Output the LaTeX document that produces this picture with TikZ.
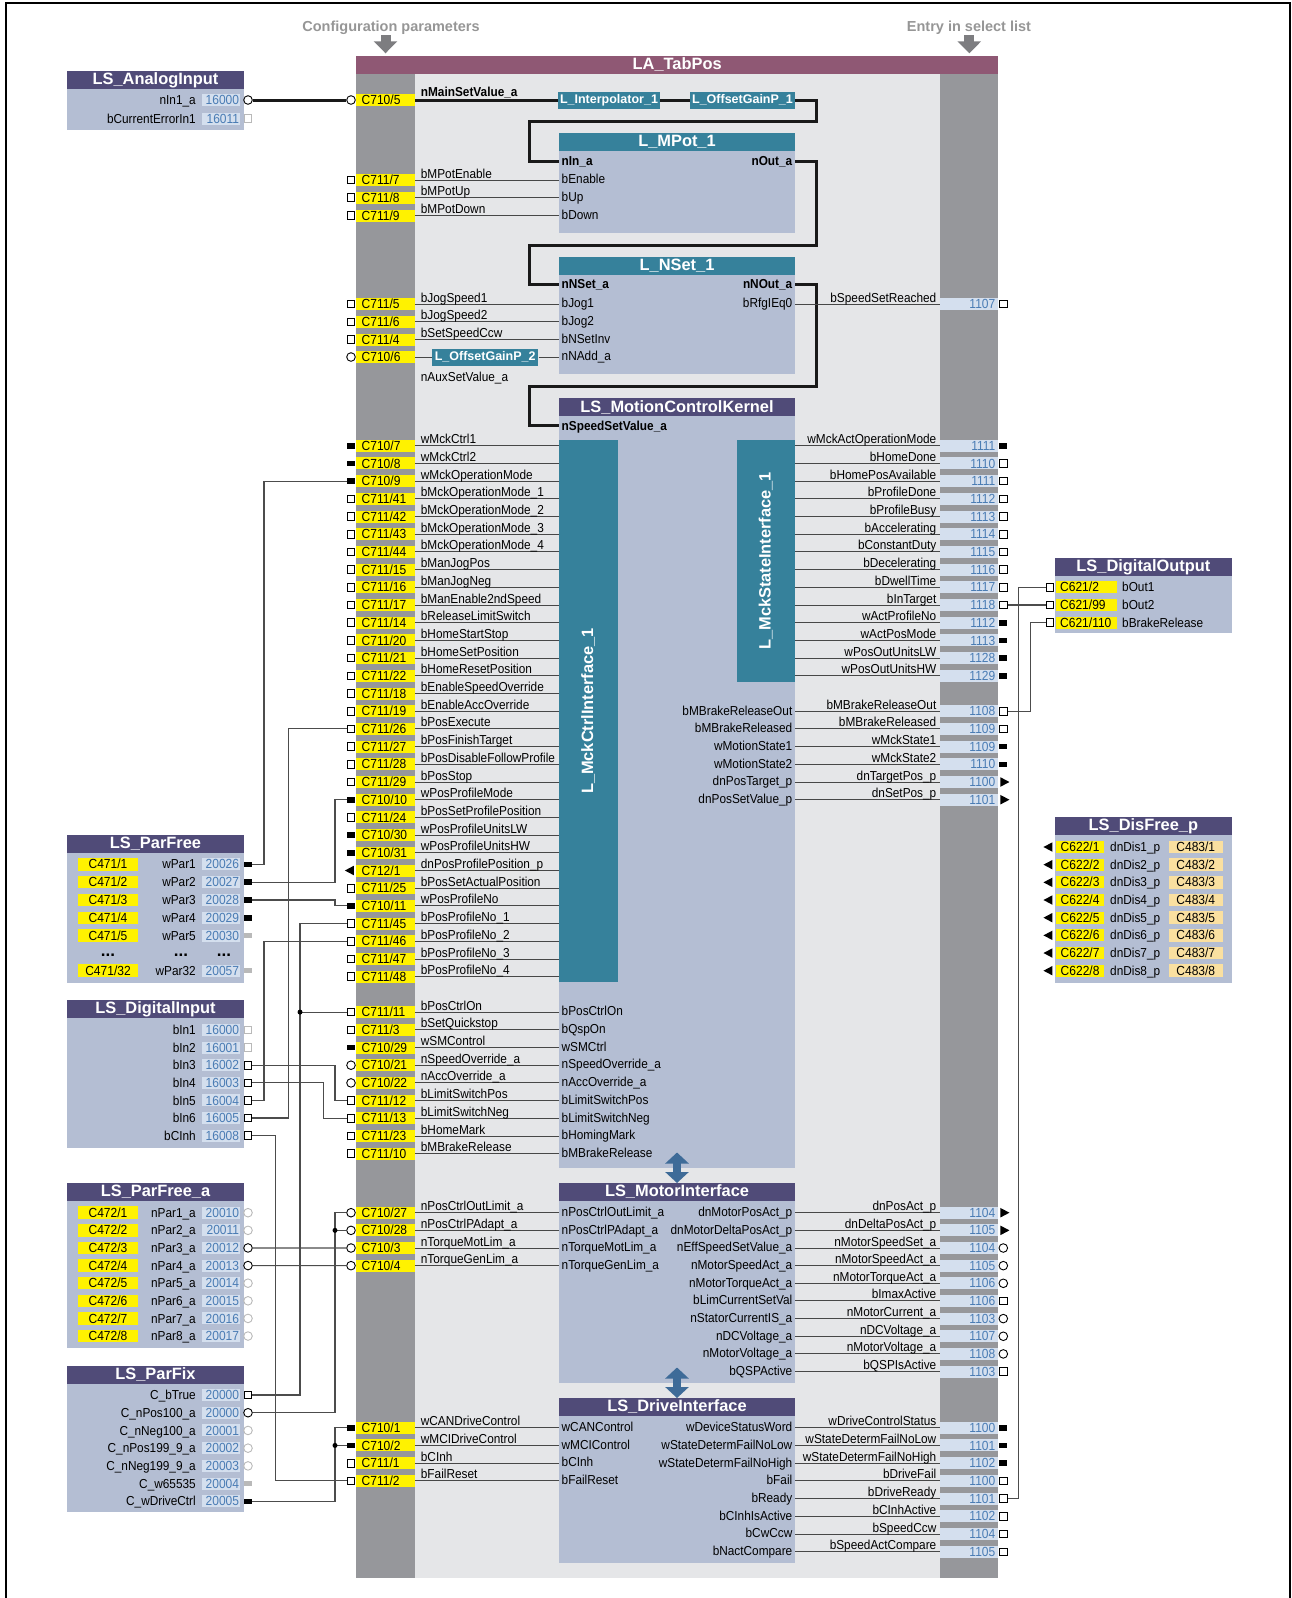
\documentclass[tikz,border=0pt]{standalone}
\usepackage{fontspec}
\setmainfont{Liberation Sans}
\newfontfamily\nrw{Liberation Sans}[FakeStretch=0.91]
\usepackage{tikz}
\usetikzlibrary{arrows.meta,shapes.geometric}

\definecolor{tabbar}{RGB}{143,88,116}
\definecolor{areabg}{RGB}{229,230,232}
\definecolor{colgray}{RGB}{150,151,155}
\definecolor{blkbg}{RGB}{180,190,211}
\definecolor{lshead}{RGB}{80,75,120}
\definecolor{tealc}{RGB}{54,129,155}
\definecolor{yelc}{RGB}{255,242,0}
\definecolor{codebg}{RGB}{212,223,238}
\definecolor{codeblue}{RGB}{74,124,180}
\definecolor{orangec}{RGB}{250,224,160}
\definecolor{arrblue}{RGB}{62,107,152}
\definecolor{cfggray}{RGB}{150,150,150}
\definecolor{cfgarrow}{RGB}{125,125,128}

\newcommand\lblf{\nrw\fontsize{13}{14}\selectfont}
\newcommand\boldf{\nrw\bfseries\fontsize{13}{14}\selectfont}
\newcommand\codef{\nrw\fontsize{13.2}{14}\selectfont}
\newcommand\headf{\bfseries\fontsize{16.4}{18}\selectfont}
\newcommand\boxf{\bfseries\fontsize{12.5}{14}\selectfont}
\newcommand\cfgf{\bfseries\fontsize{14.5}{16}\selectfont}

% input row of LA_TabPos: name, y, code, port, label, target block
\newcommand{\sigin}[6]{%
  \node[#4] (#1) at (351,#2) {};
  \node[ycell] (#1c) at (385.5,#2) {};
  \node[ctxt, anchor=base west] (#1t) at (361.5,#2+4.6) {#3};
  \draw[sig] (#1c.east) -- (#1c.east -| #6.west);
  \node[lbl, anchor=base west] (#1l) at (420.7,#2-2) {#5};}
% output row of LA_TabPos: name, y, number, port, label, source block
\newcommand{\sigout}[6]{%
  \node[bcell] (#1c) at (969.2,#2) {};
  \node[ntxt, anchor=base east] (#1t) at (995.5,#2+4.6) {#3};
  \node[#4] (#1) at (1003.3,#2) {};
  \draw[sig] (#1c.west -| #6.east) -- (#1c.west);
  \node[lbl, anchor=base east] (#1l) at (936.5,#2-2) {#5};}
% row of a system block on the left
\newcommand{\lsrow}[5]{%
  \node[lbl, anchor=base east] (#1l) at (196,#2+4.6) {#3};
  \node[bcell, minimum width=38.5] (#1c) at (221.2,#2) {};
  \node[ntxt, anchor=base east] (#1t) at (239.3,#2+4.6) {#4};
  \node[#5] (#1) at (248,#2) {};}

\begin{document}
\begin{tikzpicture}[x=1pt, y=-1pt,
  lbl/.style={font=\lblf, inner sep=0},
  blbl/.style={font=\boldf, inner sep=0},
  ctxt/.style={font=\codef, inner sep=0},
  ntxt/.style={font=\codef, text=codeblue, inner sep=0},
  ycell/.style={fill=yelc, minimum width=58.5, minimum height=12, inner sep=0},
  bcell/.style={fill=codebg, minimum width=58.5, minimum height=12, inner sep=0},
  ocell/.style={fill=orangec, minimum width=53.5, minimum height=12.5, inner sep=0},
  blk/.style={fill=blkbg, minimum width=236, inner sep=0},
  lsblk/.style={fill=blkbg, minimum width=177, inner sep=0},
  lshd/.style={fill=lshead, text=white, font=\headf, minimum height=17.6, inner sep=0},
  thd/.style={fill=tealc, text=white, font=\headf, minimum width=236, minimum height=17.6, inner sep=0},
  tbox/.style={fill=tealc, text=white, font=\boxf, minimum height=17, inner sep=0},
  tbar/.style={fill=tealc, minimum width=58.5, inner sep=0},
  vtxt/.style={text=white, font=\headf, rotate=90, inner sep=0},
  sig/.style={draw=black!72, line width=1},
  thk/.style={draw=black!90, line width=3},
  wire/.style={draw=black!70, line width=1.1},
  psq/.style={draw, fill=white, line width=0.9, minimum size=7.6, inner sep=0},
  psqo/.style={psq, draw=gray!55},
  pci/.style={draw, fill=white, circle, line width=0.9, minimum size=8.6, inner sep=0},
  pcio/.style={pci, draw=gray!55},
  pwd/.style={fill=black, minimum width=8, minimum height=5.6, inner sep=0},
  pwdo/.style={pwd, fill=gray!55},
  ptr/.style={fill=black, isosceles triangle, isosceles triangle stretches, minimum width=9.5, minimum height=9, inner sep=0},
  ptl/.style={ptr, shape border rotate=180},
  jdot/.style={circle, fill=black, minimum size=5, inner sep=0},
  garr/.style={draw=cfgarrow, line width=10pt, -{Triangle[width=23pt,length=12pt]}, shorten >=2.5pt},
  dbl/.style={draw=arrblue, line width=8pt, {Triangle[width=23pt,length=11pt]}-{Triangle[width=23pt,length=11pt]}}
]
\useasboundingbox (0,0) rectangle (1292,1598);
\draw[line width=2.5] (5.8,1598) -- (5.8,3) -- (1290,3) -- (1290,1598);

% LA_TabPos frame
\fill[areabg] (415,73.7) rectangle (940,1578);
\fill[colgray] (356,73.7) rectangle (415,1578);
\fill[colgray] (940,73.7) rectangle (998.4,1578);
\node[fill=tabbar, text=white, font=\headf, minimum width=642.4, minimum height=17.7, inner sep=0] (tab) at (677.2,64.85) {LA\_TabPos};
\node[font=\cfgf, text=cfggray, inner sep=0] (cfg) at (391,28) {Configuration parameters};
\node[font=\cfgf, text=cfggray, inner sep=0] (esl) at (969,28) {Entry in select list};
\coordinate (cfga) at (385.5,35);
\coordinate (esla) at (969.3,35);
\draw[garr] (cfga) -- (cfga |- tab.north);
\draw[garr] (esla) -- (esla |- tab.north);

% function blocks
\node[blk, minimum height=82.3] (mpotb) at (677,192.15) {};
\node[thd] (mpot) at (677,142.2) {L\_MPot\_1};
\node[blk, minimum height=100] (nsetb) at (677,324.3) {};
\node[thd] (nset) at (677,265.7) {L\_NSet\_1};
\node[blk, minimum height=752.3] (mckb) at (677,792.15) {};
\node[lshd, minimum width=236] (mck) at (677,407.2) {LS\_MotionControlKernel};
\node[tbar, minimum height=542] (mcki) at (588.25,711) {};
\node[vtxt] (mckit) at (mcki.center) {L\_MckCtrlInterface\_1};
\node[tbar, minimum height=241.7] (mcks) at (765.75,560.85) {};
\node[vtxt] (mckst) at (mcks.center) {L\_MckStateInterface\_1};
\node[blk, minimum height=182.6] (mib) at (677,1292) {};
\node[lshd, minimum width=236] (mi) at (677,1192) {LS\_MotorInterface};
\node[blk, minimum height=147.6] (dvb) at (677,1489.5) {};
\node[lshd, minimum width=236] (dv) at (677,1407) {LS\_DriveInterface};
\draw[dbl] ([yshift=16]mckb.south) -- (mi.north);
\draw[dbl] ([yshift=16]mib.south) -- (dv.north);

\node[tbox, minimum width=102] (interp) at (609,100) {L\_Interpolator\_1};
\node[tbox, minimum width=105.5] (og1) at (742.5,100) {L\_OffsetGainP\_1};
\node[tbox, minimum width=106.5] (og2) at (485.2,357) {L\_OffsetGainP\_2};

% main set value chain
\node[pci] (ipa) at (351,100) {};
\node[ycell] (ipac) at (385.5,100) {};
\node[ctxt, anchor=base west] (ipat) at (361.5,104.6) {C710/5};
\node[blbl, anchor=base west] (ipal) at (420.7,96) {nMainSetValue\_a};
\draw[thk] (ipac.east) -- (interp.west);
\draw[thk] (interp) -- (og1);
\coordinate (mpin) at (559,161.7);
\coordinate (mpout) at (795,161.7);
\coordinate (nsin) at (559,284.3);
\coordinate (nsout) at (795,284.3);
\coordinate (mckin) at (559,425.5);
\draw[thk] (og1.east) -| (816,121.7) -| (529,161.7) -- (mpin);
\draw[thk] (mpout) -| (816,245.7) -| (529,284.3) -- (nsin);
\draw[thk] (nsout) -| (816,386.7) -| (529,425.5) -- (mckin);
\node[blbl, anchor=base west] (nina) at (561.5,165.6) {nIn\_a};
\node[blbl, anchor=base east] (nouta) at (792.5,165.6) {nOut\_a};
\node[blbl, anchor=base west] (nnset) at (561.5,288.2) {nNSet\_a};
\node[blbl, anchor=base east] (nnout) at (792.5,288.2) {nNOut\_a};
\node[blbl, anchor=base west] (nssv) at (561.5,430) {nSpeedSetValue\_a};

% L_MPot_1 / L_NSet_1 inputs
\foreach \yy/\cb/\lab/\ilab [count=\kk] in {180/7/bMPotEnable/bEnable, 197.7/8/bMPotUp/bUp, 215.5/9/bMPotDown/bDown} {
  \sigin{ipm\kk}{\yy}{C711/\cb}{psq}{\lab}{mpotb}
  \node[lbl, anchor=base west] (ipmi\kk) at (561.5,\yy+3.7) {\ilab};
}
\foreach \yy/\cb/\lab/\ilab [count=\kk] in {304/5/bJogSpeed1/bJog1, 321.8/6/bJogSpeed2/bJog2, 339.6/4/bSetSpeedCcw/bNSetInv} {
  \sigin{ipn\kk}{\yy}{C711/\cb}{psq}{\lab}{nsetb}
  \node[lbl, anchor=base west] (ipni\kk) at (561.5,\yy+3.7) {\ilab};
}
\node[pci] (ipn4) at (351,357) {};
\node[ycell] (ipn4c) at (385.5,357) {};
\node[ctxt, anchor=base west] (ipn4t) at (361.5,361.6) {C710/6};
\node[lbl, anchor=base west] (ipn4l) at (420.7,381.5) {nAuxSetValue\_a};
\node[lbl, anchor=base west] (ipni4) at (561.5,360.7) {nNAdd\_a};
\draw[sig] (ipn4c.east) -- (og2.west);
\draw[sig] (og2.east) -- (og2.east -| nsetb.west);
\node[lbl, anchor=base east] (rfg) at (792.5,307.7) {bRfgIEq0};
\sigout{o07}{304}{1107}{psq}{bSpeedSetReached}{nsetb}

% LS_MotionControlKernel inputs
\foreach \ca/\cb/\pt/\lab [count=\rw from 0] in {
  710/7/pwd/wMckCtrl1, 710/8/pwd/wMckCtrl2, 710/9/pwd/wMckOperationMode,
  711/41/psq/bMckOperationMode\_1, 711/42/psq/bMckOperationMode\_2,
  711/43/psq/bMckOperationMode\_3, 711/44/psq/bMckOperationMode\_4,
  711/15/psq/bManJogPos, 711/16/psq/bManJogNeg, 711/17/psq/bManEnable2ndSpeed,
  711/14/psq/bReleaseLimitSwitch, 711/20/psq/bHomeStartStop,
  711/21/psq/bHomeSetPosition, 711/22/psq/bHomeResetPosition,
  711/18/psq/bEnableSpeedOverride, 711/19/psq/bEnableAccOverride,
  711/26/psq/bPosExecute, 711/27/psq/bPosFinishTarget,
  711/28/psq/bPosDisableFollowProfile, 711/29/psq/bPosStop,
  710/10/pwd/wPosProfileMode, 711/24/psq/bPosSetProfilePosition,
  710/30/pwd/wPosProfileUnitsLW, 710/31/pwd/wPosProfileUnitsHW,
  712/1/ptl/dnPosProfilePosition\_p, 711/25/psq/bPosSetActualPosition,
  710/11/pwd/wPosProfileNo, 711/45/psq/bPosProfileNo\_1,
  711/46/psq/bPosProfileNo\_2, 711/47/psq/bPosProfileNo\_3,
  711/48/psq/bPosProfileNo\_4} {
  \pgfmathsetmacro\yy{445.7+17.7*\rw}
  \sigin{ip\rw}{\yy}{C\ca/\cb}{\pt}{\lab}{mcki}
}
\foreach \ca/\cb/\pt/\lab/\ilab [count=\rw from 32] in {
  711/11/psq/bPosCtrlOn/bPosCtrlOn, 711/3/psq/bSetQuickstop/bQspOn,
  710/29/pwd/wSMControl/wSMCtrl,
  710/21/pci/nSpeedOverride\_a/nSpeedOverride\_a,
  710/22/pci/nAccOverride\_a/nAccOverride\_a,
  711/12/psq/bLimitSwitchPos/bLimitSwitchPos,
  711/13/psq/bLimitSwitchNeg/bLimitSwitchNeg,
  711/23/psq/bHomeMark/bHomingMark, 711/10/psq/bMBrakeRelease/bMBrakeRelease} {
  \pgfmathsetmacro\yy{445.7+17.7*\rw}
  \sigin{ip\rw}{\yy}{C\ca/\cb}{\pt}{\lab}{mckb}
  \node[lbl, anchor=base west] (ipi\rw) at (561.5,\yy+3.7) {\ilab};
}

% LS_MotionControlKernel outputs
\foreach \lab/\num/\pt [count=\rw from 0] in {
  wMckActOperationMode/1111/pwd, bHomeDone/1110/psq, bHomePosAvailable/1111/psq,
  bProfileDone/1112/psq, bProfileBusy/1113/psq, bAccelerating/1114/psq,
  bConstantDuty/1115/psq, bDecelerating/1116/psq, bDwellTime/1117/psq,
  bInTarget/1118/psq, wActProfileNo/1112/pwd, wActPosMode/1113/pwd,
  wPosOutUnitsLW/1128/pwd, wPosOutUnitsHW/1129/pwd} {
  \pgfmathsetmacro\yy{445.7+17.7*\rw}
  \sigout{op\rw}{\yy}{\num}{\pt}{\lab}{mcks}
}
\foreach \ilab/\lab/\num/\pt [count=\rw from 15] in {
  bMBrakeReleaseOut/bMBrakeReleaseOut/1108/psq,
  bMBrakeReleased/bMBrakeReleased/1109/psq,
  wMotionState1/wMckState1/1109/pwd, wMotionState2/wMckState2/1110/pwd,
  dnPosTarget\_p/dnTargetPos\_p/1100/ptr, dnPosSetValue\_p/dnSetPos\_p/1101/ptr} {
  \pgfmathsetmacro\yy{445.7+17.7*\rw}
  \sigout{op\rw}{\yy}{\num}{\pt}{\lab}{mckb}
  \node[lbl, anchor=base east] (opi\rw) at (792.5,\yy+3.9) {\ilab};
}

% LS_MotorInterface
\foreach \ca/\cb/\lab [count=\rw from 0] in {
  710/27/nPosCtrlOutLimit\_a, 710/28/nPosCtrlPAdapt\_a,
  710/3/nTorqueMotLim\_a, 710/4/nTorqueGenLim\_a} {
  \pgfmathsetmacro\yy{1212.7+17.65*\rw}
  \sigin{mp\rw}{\yy}{C\ca/\cb}{pci}{\lab}{mib}
  \node[lbl, anchor=base west] (mpi\rw) at (561.5,\yy+3.7) {\lab};
}
\foreach \ilab/\lab/\num/\pt [count=\rw from 0] in {
  dnMotorPosAct\_p/dnPosAct\_p/1104/ptr,
  dnMotorDeltaPosAct\_p/dnDeltaPosAct\_p/1105/ptr,
  nEffSpeedSetValue\_a/nMotorSpeedSet\_a/1104/pci,
  nMotorSpeedAct\_a/nMotorSpeedAct\_a/1105/pci,
  nMotorTorqueAct\_a/nMotorTorqueAct\_a/1106/pci,
  bLimCurrentSetVal/bImaxActive/1106/psq,
  nStatorCurrentIS\_a/nMotorCurrent\_a/1103/pci,
  nDCVoltage\_a/nDCVoltage\_a/1107/pci,
  nMotorVoltage\_a/nMotorVoltage\_a/1108/pci,
  bQSPActive/bQSPIsActive/1103/psq} {
  \pgfmathsetmacro\yy{1212.7+17.65*\rw}
  \sigout{mq\rw}{\yy}{\num}{\pt}{\lab}{mib}
  \node[lbl, anchor=base east] (mqi\rw) at (792.5,\yy+3.9) {\ilab};
}

% LS_DriveInterface
\foreach \ca/\cb/\pt/\lab/\ilab [count=\rw from 0] in {
  710/1/pwd/wCANDriveControl/wCANControl, 710/2/pwd/wMCIDriveControl/wMCIControl,
  711/1/psq/bCInh/bCInh, 711/2/psq/bFailReset/bFailReset} {
  \pgfmathsetmacro\yy{1427.7+17.72*\rw}
  \sigin{dp\rw}{\yy}{C\ca/\cb}{\pt}{\lab}{dvb}
  \node[lbl, anchor=base west] (dpi\rw) at (561.5,\yy+3.7) {\ilab};
}
\foreach \ilab/\lab/\num/\pt [count=\rw from 0] in {
  wDeviceStatusWord/wDriveControlStatus/1100/pwd,
  wStateDetermFailNoLow/wStateDetermFailNoLow/1101/pwd,
  wStateDetermFailNoHigh/wStateDetermFailNoHigh/1102/pwd,
  bFail/bDriveFail/1100/psq, bReady/bDriveReady/1101/psq,
  bCInhIsActive/bCInhActive/1102/psq, bCwCcw/bSpeedCcw/1104/psq,
  bNactCompare/bSpeedActCompare/1105/psq} {
  \pgfmathsetmacro\yy{1427.7+17.72*\rw}
  \sigout{dq\rw}{\yy}{\num}{\pt}{\lab}{dvb}
  \node[lbl, anchor=base east] (dqi\rw) at (792.5,\yy+3.9) {\ilab};
}

% system blocks left
\node[lsblk, minimum height=41] (aib) at (155.5,109.2) {};
\node[lshd, minimum width=177] (aih) at (155.5,79.85) {LS\_AnalogInput};
\lsrow{ai1}{100}{nIn1\_a}{16000}{pci}
\lsrow{ai2}{118.7}{bCurrentErrorIn1}{16011}{psqo}
\draw[thk] (ai1.east) -- (ipa.west);

\node[lsblk, minimum height=130] (pfb) at (155.5,917.7) {};
\node[lshd, minimum width=177] (pfh) at (155.5,843.85) {LS\_ParFree};
\foreach \yy/\cb/\lab/\num/\pt [count=\kk] in {864.3/1/wPar1/20026/pwd, 882.2/2/wPar2/20027/pwd,
  900/3/wPar3/20028/pwd, 917.8/4/wPar4/20029/pwd, 935.6/5/wPar5/20030/pwdo,
  970.5/32/wPar32/20057/pwdo} {
  \node[ycell, minimum width=60, minimum height=12.5] (pfy\kk) at (108,\yy) {};
  \node[ctxt, anchor=base] (pfyt\kk) at (108,\yy+4.6) {C471/\cb};
  \lsrow{pf\kk}{\yy}{\lab}{\num}{\pt}
}
\foreach \xx [count=\kk] in {108,181,224}
  \node[font=\bfseries\fontsize{17}{18}\selectfont, inner sep=0, anchor=base] (pfd\kk) at (\xx,956.5) {...};

\node[lsblk, minimum height=130] (dinb) at (155.5,1082.7) {};
\node[lshd, minimum width=177] (dinh) at (155.5,1008.85) {LS\_DigitalInput};
\foreach \lab/\num/\pt [count=\kk] in {bIn1/16000/psqo, bIn2/16001/psqo, bIn3/16002/psq,
  bIn4/16003/psq, bIn5/16004/psq, bIn6/16005/psq, bCInh/16008/psq} {
  \pgfmathsetmacro\yy{1030+17.6*(\kk-1)}
  \lsrow{di\kk}{\yy}{\lab}{\num}{\pt}
}

\node[lsblk, minimum height=147] (pab) at (155.5,1274.2) {};
\node[lshd, minimum width=177] (pah) at (155.5,1192) {LS\_ParFree\_a};
\foreach \kk/\pt in {1/pcio, 2/pcio, 3/pci, 4/pci, 5/pcio, 6/pcio, 7/pcio, 8/pcio} {
  \pgfmathsetmacro\yy{1212.7+17.62*(\kk-1)}
  \pgfmathtruncatemacro\nn{9+\kk}
  \node[ycell, minimum width=60, minimum height=12.5] (pay\kk) at (108,\yy) {};
  \node[ctxt, anchor=base] (payt\kk) at (108,\yy+4.6) {C472/\kk};
  \lsrow{pa\kk}{\yy}{nPar\kk\_a}{200\nn}{\pt}
}

\node[lsblk, minimum height=128.3] (pxb) at (155.5,1448.15) {};
\node[lshd, minimum width=177] (pxh) at (155.5,1375) {LS\_ParFix};
\foreach \lab/\num/\pt [count=\kk] in {C\_bTrue/20000/psq, C\_nPos100\_a/20000/pci,
  C\_nNeg100\_a/20001/pcio, C\_nPos199\_9\_a/20002/pcio, C\_nNeg199\_9\_a/20003/pcio,
  C\_w65535/20004/pwdo, C\_wDriveCtrl/20005/pwd} {
  \pgfmathsetmacro\yy{1395+17.72*(\kk-1)}
  \lsrow{px\kk}{\yy}{\lab}{\num}{\pt}
}

% system blocks right
\node[lsblk, minimum height=57.6] (dob) at (1143.4,604.5) {};
\node[lshd, minimum width=177] (doh) at (1143.4,567) {LS\_DigitalOutput};
\foreach \cb/\lab [count=\kk] in {2/bOut1, 99/bOut2, 110/bBrakeRelease} {
  \pgfmathsetmacro\yy{445.7+17.7*(\kk+7)}
  \node[psq] (do\kk) at (1050,\yy) {};
  \node[ycell, minimum width=60.7] (doy\kk) at (1086.2,\yy) {};
  \node[ctxt, anchor=base west] (doyt\kk) at (1060,\yy+4.6) {C621/\cb};
  \node[lbl, anchor=base west] (dol\kk) at (1122,\yy+4.6) {\lab};
}

\node[lsblk, minimum height=148.4] (dfb) at (1143.4,908.5) {};
\node[lshd, minimum width=177] (dfh) at (1143.4,825.8) {LS\_DisFree\_p};
\foreach \kk in {1,...,8} {
  \pgfmathsetmacro\yy{847+17.67*(\kk-1)}
  \node[ptl] (df\kk) at (1049.6,\yy) {};
  \node[ycell, minimum width=48.6] (dfy\kk) at (1080.1,\yy) {};
  \node[ctxt, anchor=base] (dfyt\kk) at (1080.1,\yy+4.6) {C622/\kk};
  \node[lbl, anchor=base west] (dfl\kk) at (1110,\yy+4.6) {dnDis\kk\_p};
  \node[ocell] (dfo\kk) at (1195.8,\yy) {};
  \node[ctxt, anchor=base] (dfot\kk) at (1195.8,\yy+4.6) {C483/\kk};
}

% wiring
\coordinate (xa) at (264,0);
\coordinate (xb) at (275.7,0);
\coordinate (xc) at (288.3,0);
\coordinate (xd) at (300,0);
\coordinate (xe) at (323.3,0);
\coordinate (xf) at (335,0);
\coordinate (xr1) at (1018.7,0);
\coordinate (xr2) at (1030.7,0);
\draw[wire] (pf1.east) -| (xa |- ip2) -- (ip2.west);
\draw[wire] (pf2.east) -| (xf |- ip20) -- (ip20.west);
\draw[wire] (pf3.east) -| (xf |- ip26) -- (ip26.west);
\draw[wire] (di3.east) -| (xf |- ip37) -- (ip37.west);
\draw[wire] (di4.east) -| (xe |- ip38) -- (ip38.west);
\draw[wire] (di5.east) -| (xa |- ip28) -- (ip28.west);
\draw[wire] (di6.east) -| (xc |- ip16) -- (ip16.west);
\draw[wire] (di7.east) -| (xb |- dp3) -- (dp3.west);
\draw[wire] (px1.east) -| (xd |- ip27) -- (ip27.west);
\draw[wire] (xd |- ip32) -- (ip32.west);
\node[jdot] (j1) at (xd |- ip32) {};
\draw[wire] (px2.east) -| (xf |- mp0) -- (mp0.west);
\draw[wire] (xf |- mp1) -- (mp1.west);
\node[jdot] (j2) at (xf |- mp1) {};
\draw[wire] (pa3.east) -- (mp2.west);
\draw[wire] (pa4.east) -- (mp3.west);
\draw[wire] (px7.east) -| (xf |- dp0) -- (dp0.west);
\draw[wire] (xf |- dp1) -- (dp1.west);
\node[jdot] (j3) at (xf |- dp1) {};
\draw[wire] (do1.west) -| (xr1 |- dq4) -- (dq4.east);
\draw[wire] (do2.west) -- (op9.east);
\draw[wire] (do3.west) -| (xr2 |- op15) -- (op15.east);
\end{tikzpicture}
\end{document}
